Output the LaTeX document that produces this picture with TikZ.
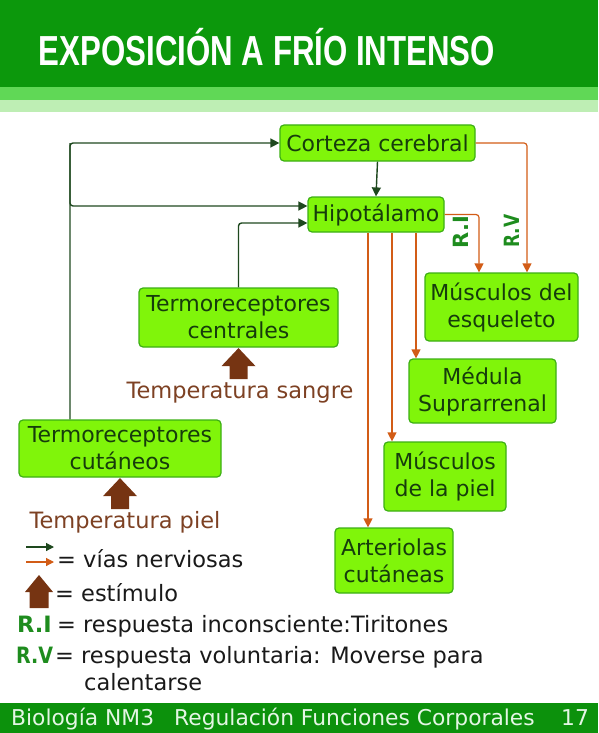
\documentclass[tikz,border=0pt]{standalone}
\usepackage{fontspec}
\setmainfont{DejaVu Sans}
\newfontfamily\titlefont{Liberation Sans}
\usetikzlibrary{arrows.meta}
\definecolor{hdark}{RGB}{12,152,12}
\definecolor{hmid}{RGB}{96,216,86}
\definecolor{hpale}{RGB}{190,238,180}
\definecolor{boxfill}{RGB}{128,245,10}
\definecolor{boxborder}{RGB}{60,175,20}
\definecolor{boxtext}{RGB}{22,60,12}
\definecolor{nerve}{RGB}{30,72,30}
\definecolor{orng}{RGB}{210,92,22}
\definecolor{stimb}{RGB}{118,52,18}
\definecolor{stimt}{RGB}{125,65,35}
\definecolor{rgreen}{RGB}{30,140,30}
\definecolor{foot}{RGB}{12,145,12}
\definecolor{foottext}{RGB}{228,246,228}
\definecolor{legtext}{RGB}{25,25,25}
\begin{document}
\begin{tikzpicture}[x=1pt,y=-1pt,
  box/.style={draw=boxborder, fill=boxfill, rounded corners=4pt, line width=1.2pt,
    text=boxtext, font=\fontsize{22}{27}\selectfont, align=center, inner sep=0pt},
  ng/.style={draw=nerve, line width=1.4pt, rounded corners=3pt, -{Triangle[length=9pt,width=9pt]}},
  no/.style={draw=orng, line width=1.2pt, rounded corners=3pt, -{Triangle[length=9pt,width=9pt]}},
  stim/.style={fill=stimb},
  stimlabel/.style={text=stimt, font=\fontsize{22.5}{25}\selectfont, inner sep=0pt, anchor=base},
  legend/.style={text=legtext, font=\fontsize{22.5}{25}\selectfont, inner sep=0pt, anchor=base west},
  rlabel/.style={text=rgreen, font=\fontsize{22.5}{24}\selectfont\bfseries, inner sep=0pt, anchor=base west},
  rvert/.style={text=rgreen, font=\fontsize{21}{22}\selectfont\bfseries, inner sep=0pt, rotate=90},
  foottxt/.style={text=foottext, font=\fontsize{21.8}{24}\selectfont, inner sep=0pt, anchor=base west}
]
\useasboundingbox (0,0) rectangle (598,733);
% header
\fill[hdark] (0,0) rectangle (598,87);
\fill[hmid] (0,87) rectangle (598,100);
\fill[hpale] (0,100) rectangle (598,112);
\node[text=white, inner sep=0pt] (title) at (267,47)
  {\resizebox{456pt}{\height}{\titlefont\fontsize{42}{42}\selectfont\bfseries EXPOSICIÓN A FRÍO INTENSO}};
% footer
\fill[foot] (0,703) rectangle (598,733);
\node[foottxt] (f1) at (11,725) {Biología NM3};
\node[foottxt] (f2) at (174,725) {Regulación Funciones Corporales};
\node[foottxt] (f3) at (561,725) {17};
% boxes
\node[box, minimum width=195, minimum height=36] (cort) at (377.5,143) {Corteza cerebral};
\node[box, minimum width=136, minimum height=35] (hip) at (376,214.5) {Hipotálamo};
\node[box, minimum width=153, minimum height=68] (esq) at (501.5,307) {Músculos del\\esqueleto};
\node[box, minimum width=147, minimum height=64] (med) at (482.5,391) {Médula\\Suprarrenal};
\node[box, minimum width=122, minimum height=69] (piel) at (445,476.5) {Músculos\\de la piel};
\node[box, minimum width=118, minimum height=65] (art) at (394,560.5) {Arteriolas\\cutáneas};
\node[box, minimum width=199, minimum height=59] (cen) at (238.5,317.5) {Termoreceptores\\centrales};
\node[box, minimum width=202, minimum height=57] (cut) at (120,448.5) {Termoreceptores\\cutáneos};
% nerve paths (dark green)
\coordinate (lx) at (70,0);
\draw[ng] (cut.north -| lx) |- (cort.west);
\draw[ng] (lx |- cort.west) |- ([yshift=8.5pt]hip.west);
\draw[ng] (cen.north) |- ([yshift=-8.5pt]hip.west);
\draw[ng] (cort.south) -- (hip.north);
% effector paths (orange)
\draw[no] (cort.east) -| ([xshift=25.5pt]esq.north);
\draw[no] (hip.east) -| ([xshift=-22.5pt]esq.north);
\draw[no] ([xshift=40pt]hip.south) -- ([xshift=40pt]hip.south |- med.north);
\draw[no] ([xshift=16pt]hip.south) -- ([xshift=16pt]hip.south |- piel.north);
\draw[no] ([xshift=-8pt]hip.south) -- ([xshift=-8pt]hip.south |- art.north);
\node[rvert] (ri) at (461,232) {R.I};
\node[rvert] (rv) at (512,231) {\resizebox{33pt}{\height}{R.V}};
% stimuli
\fill[stim] ([yshift=-0.5pt]cen.south) -- ++(17,18) -- ++(-8,0) -- ++(0,13) -- ++(-18,0) -- ++(0,-13) -- ++(-8,0) -- cycle;
\node[stimlabel] (ts) at (240,398) {Temperatura sangre};
\fill[stim] ([yshift=-0.5pt]cut.south) -- ++(17,18) -- ++(-8,0) -- ++(0,13) -- ++(-18,0) -- ++(0,-13) -- ++(-8,0) -- cycle;
\node[stimlabel] (tp) at (125,528) {Temperatura piel};
% legend
\coordinate (lga) at (26,547);
\coordinate (lgb) at (54,547);
\coordinate (lgc) at (26,562);
\coordinate (lgd) at (54,562);
\draw[ng, line width=1.2pt, -{Triangle[length=8pt,width=8pt]}] (lga) -- (lgb);
\draw[no, -{Triangle[length=8pt,width=8pt]}] (lgc) -- (lgd);
\node[legend] (l1) at (57,567) {= vías nerviosas};
\coordinate (lgs) at (39,575);
\fill[stim] (lgs) -- ++(14,17) -- ++(-4.5,0) -- ++(0,16) -- ++(-19,0) -- ++(0,-16) -- ++(-4.5,0) -- cycle;
\node[legend] (l2) at (55,601) {= estímulo};
\node[rlabel] (l3a) at (17,632) {R.I};
\node[legend] (l3) at (57,632) {= respuesta inconsciente:Tiritones};
\node[rlabel] (l4a) at (16,663) {\resizebox{37pt}{\height}{R.V}};
\node[legend] (l4) at (55,663) {= respuesta voluntaria: Moverse para};
\node[legend] (l5) at (84,690) {calentarse};
\end{tikzpicture}
\end{document}
